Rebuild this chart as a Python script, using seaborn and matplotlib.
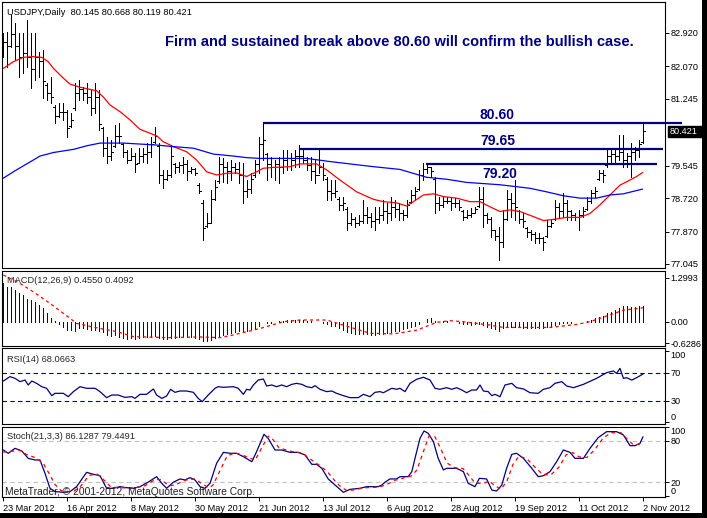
import numpy as np
import pandas as pd
import matplotlib
matplotlib.use("Agg")
import matplotlib.pyplot as plt
import seaborn as sns
from matplotlib.patches import Rectangle

# ---------------- data ----------------
date_bars = [0, 16, 32, 48, 64, 80, 96, 112, 128, 144, 160]
date_labels = ["23 Mar 2012", "16 Apr 2012", "8 May 2012", "30 May 2012", "21 Jun 2012",
               "13 Jul 2012", "6 Aug 2012", "28 Aug 2012", "19 Sep 2012", "11 Oct 2012", "2 Nov 2012"]

bar_high = [
    82.92, 82.95, 83.38, 83.17, 82.92, 82.92, 83.25, 82.92, 82.92, 82.44,
    82.49, 81.65, 81.80, 81.09, 81.14, 81.14, 80.96, 80.89, 81.65, 81.72,
    81.55, 81.65, 81.47, 81.65, 81.47, 80.53, 80.27, 80.20, 80.58, 80.63,
    80.12, 79.94, 79.99, 79.87, 79.99, 79.99, 80.12, 80.27, 80.53, 80.12,
    79.43, 79.43, 80.02, 79.61, 79.64, 79.77, 79.69, 79.51, 79.48, 79.11,
    78.67, 78.34, 78.93, 79.18, 79.77, 79.74, 79.64, 79.69, 79.61, 79.64,
    79.61, 79.18, 79.36, 79.69, 80.27, 80.66, 79.87, 79.77, 79.69, 79.77,
    79.94, 79.94, 79.87, 79.94, 80.07, 79.94, 79.77, 79.77, 79.69, 79.94,
    79.61, 79.26, 79.18, 79.18, 78.75, 78.75, 78.50, 78.34, 78.24, 78.29,
    78.67, 78.50, 78.34, 78.50, 78.50, 78.67, 78.60, 78.75, 78.67, 78.60,
    78.42, 78.67, 78.93, 79.00, 79.43, 79.61, 79.61, 79.51, 79.26, 78.75,
    78.75, 78.75, 78.75, 78.72, 78.67, 78.42, 78.42, 78.47, 78.50, 79.00,
    79.00, 78.34, 78.24, 77.91, 77.99, 78.42, 78.93, 78.85, 79.18, 78.42,
    78.34, 77.99, 77.91, 77.86, 77.83, 77.73, 78.16, 78.16, 78.67, 78.60,
    78.85, 78.67, 78.42, 78.34, 78.42, 78.50, 78.75, 78.93, 79.00, 79.43,
    79.43, 79.94, 79.94, 79.94, 80.33, 80.33, 79.87, 80.12, 80.02, 80.20,
    80.668]
bar_low = [
    82.31, 82.06, 82.56, 82.23, 81.80, 81.90, 82.06, 81.52, 81.72, 81.80,
    81.27, 81.22, 81.14, 80.63, 80.78, 80.71, 80.27, 80.53, 80.96, 81.22,
    81.22, 81.14, 80.83, 80.89, 80.45, 79.80, 79.61, 79.69, 80.02, 80.12,
    79.77, 79.61, 79.69, 79.38, 79.61, 79.64, 79.61, 79.77, 80.12, 79.11,
    78.98, 79.18, 79.26, 79.36, 79.38, 79.36, 79.18, 79.36, 79.31, 78.85,
    77.66, 77.99, 78.09, 78.67, 79.11, 79.13, 79.11, 79.18, 79.36, 79.11,
    78.60, 78.75, 78.85, 79.26, 79.36, 79.69, 79.18, 79.26, 79.18, 79.11,
    79.36, 79.43, 79.43, 79.51, 79.51, 79.61, 79.43, 79.18, 79.11, 79.36,
    79.18, 78.67, 78.67, 78.75, 78.42, 78.42, 77.91, 78.04, 77.99, 78.04,
    78.09, 78.09, 77.99, 77.91, 78.09, 78.16, 78.09, 78.16, 78.24, 78.16,
    78.16, 78.24, 78.60, 78.67, 78.93, 79.18, 79.36, 79.26, 78.34, 78.42,
    78.50, 78.60, 78.42, 78.50, 78.42, 78.16, 78.21, 78.24, 78.34, 78.50,
    77.99, 78.09, 77.73, 77.66, 77.15, 77.48, 78.16, 78.24, 78.16, 78.09,
    77.99, 77.73, 77.66, 77.58, 77.58, 77.40, 77.73, 77.99, 78.16, 78.24,
    78.24, 78.16, 78.16, 78.16, 77.91, 78.24, 78.42, 78.60, 78.75, 79.18,
    79.13, 79.51, 79.61, 79.61, 79.69, 79.51, 79.51, 79.26, 79.69, 79.77,
    80.119]
bar_open = [
    82.50, 82.70, 82.60, 82.90, 82.60, 82.30, 82.40, 82.30, 82.00, 82.30,
    82.20, 81.60, 81.40, 81.05, 80.80, 80.90, 80.90, 80.55, 81.00, 81.40,
    81.50, 81.40, 81.30, 81.00, 81.30, 80.50, 80.00, 79.80, 80.05, 80.30,
    80.10, 79.90, 79.70, 79.80, 79.62, 79.80, 79.85, 79.90, 80.15, 80.05,
    79.30, 79.20, 79.30, 79.58, 79.50, 79.55, 79.60, 79.40, 79.45, 79.05,
    78.60, 78.00, 78.10, 78.70, 79.15, 79.60, 79.50, 79.40, 79.50, 79.45,
    79.30, 78.90, 78.95, 79.30, 79.60, 80.10, 79.85, 79.60, 79.50, 79.60,
    79.50, 79.70, 79.75, 79.70, 79.80, 79.80, 79.70, 79.55, 79.40, 79.30,
    79.50, 79.20, 78.90, 78.85, 78.70, 78.55, 78.45, 78.10, 78.20, 78.10,
    78.15, 78.30, 78.25, 78.15, 78.20, 78.30, 78.40, 78.35, 78.50, 78.45,
    78.35, 78.30, 78.62, 78.80, 78.95, 79.30, 79.45, 79.50, 79.20, 78.60,
    78.55, 78.65, 78.65, 78.60, 78.60, 78.40, 78.25, 78.30, 78.35, 78.52,
    78.70, 78.30, 78.20, 77.90, 77.75, 77.60, 78.20, 78.70, 78.60, 78.40,
    78.20, 77.95, 77.85, 77.80, 77.70, 77.70, 77.75, 78.00, 78.20, 78.50,
    78.40, 78.60, 78.40, 78.30, 78.25, 78.30, 78.45, 78.65, 78.85, 79.20,
    79.35, 79.55, 79.80, 79.85, 79.80, 79.90, 79.70, 79.80, 79.90, 79.95,
    80.145]
bar_close = [
    82.70, 82.60, 82.90, 82.60, 82.30, 82.40, 82.30, 82.00, 82.30, 82.20,
    81.70, 81.40, 81.30, 80.80, 80.90, 80.90, 80.50, 80.70, 81.40, 81.50,
    81.40, 81.30, 81.00, 81.30, 80.60, 80.00, 79.80, 79.90, 80.30, 80.30,
    79.90, 79.70, 79.80, 79.60, 79.80, 79.85, 79.90, 80.10, 80.30, 79.30,
    79.20, 79.30, 79.80, 79.50, 79.55, 79.60, 79.40, 79.45, 79.35, 78.90,
    77.95, 78.10, 78.70, 79.00, 79.60, 79.50, 79.40, 79.50, 79.45, 79.30,
    78.90, 78.95, 79.20, 79.60, 80.10, 80.20, 79.60, 79.50, 79.60, 79.50,
    79.70, 79.75, 79.70, 79.80, 79.80, 79.70, 79.55, 79.40, 79.30, 79.50,
    79.30, 78.90, 78.85, 78.90, 78.55, 78.60, 78.10, 78.20, 78.10, 78.15,
    78.30, 78.25, 78.15, 78.20, 78.30, 78.40, 78.35, 78.50, 78.45, 78.35,
    78.30, 78.55, 78.80, 78.90, 79.30, 79.45, 79.50, 79.40, 78.60, 78.55,
    78.65, 78.65, 78.60, 78.60, 78.50, 78.25, 78.30, 78.35, 78.45, 78.70,
    78.30, 78.20, 77.90, 77.75, 77.60, 78.20, 78.70, 78.60, 78.50, 78.20,
    78.15, 77.85, 77.80, 77.70, 77.70, 77.60, 78.00, 78.10, 78.50, 78.40,
    78.60, 78.40, 78.30, 78.25, 78.30, 78.40, 78.65, 78.85, 78.90, 79.35,
    79.30, 79.80, 79.85, 79.80, 79.90, 79.70, 79.80, 79.90, 79.95, 80.10,
    80.421]

ma_red_bar = [0.1, 2.6, 5.1, 7.6, 9.7, 11.3, 12.6, 15.1, 16.75, 19.25, 23.4, 25.1, 26.75, 29.25,
              31.75, 34.25, 36.75, 38.5, 40, 42.6, 45.9, 48.4, 50.9, 53.4, 55.9, 58.4, 60.9, 63.4,
              65.1, 67.5, 71.75, 74.25, 78.4, 80.9, 84.25, 88.4, 92.6, 95.1, 98.4, 100.9, 102.6,
              105.1, 107.6, 110.1, 113.4, 116.75, 119.25, 121.75, 124.25, 126.75, 129.25, 132.6,
              135.1, 137.6, 140.9, 144.25, 146.75, 149.25, 151.75, 154.25, 156.75, 158.4, 159.9]
ma_red_val = [82.02, 82.19, 82.30, 82.32, 82.30, 82.19, 82.02, 81.77, 81.62, 81.54, 81.45, 81.29,
              81.09, 80.92, 80.71, 80.47, 80.37, 80.30, 80.16, 80.03, 79.90, 79.69, 79.39, 79.31,
              79.35, 79.36, 79.27, 79.39, 79.48, 79.50, 79.52, 79.59, 79.59, 79.44, 79.18, 78.88,
              78.69, 78.63, 78.60, 78.52, 78.63, 78.80, 78.83, 78.76, 78.72, 78.63, 78.63, 78.50,
              78.38, 78.42, 78.38, 78.25, 78.15, 78.18, 78.23, 78.23, 78.33, 78.55, 78.80, 79.05,
              79.18, 79.27, 79.37]
ma_blue_bar = [0.1, 3.4, 7.6, 9.25, 12.6, 17.6, 20.9, 24.25, 30.1, 38.4, 42.6, 47.6, 52.6, 57.6,
               60.9, 64.25, 75.9, 81.75, 86.75, 92.6, 99.25, 105.9, 110.9, 115.9, 124.25, 131.75,
               135.9, 140.1, 144.25, 148.4, 151.75, 155.1, 159.9]
ma_blue_val = [79.23, 79.44, 79.69, 79.79, 79.88, 79.96, 80.05, 80.12, 80.12, 80.07, 80.03, 79.99,
               79.84, 79.79, 79.75, 79.73, 79.73, 79.65, 79.59, 79.52, 79.45, 79.25, 79.20, 79.12,
               79.06, 78.97, 78.88, 78.78, 78.72, 78.72, 78.80, 78.83, 78.95]

level_price = [80.62, 79.96, 79.58]
level_text = ["80.60", "79.65", "79.20"]
level_start = [65.0, 74.25, 105.75]
level_end = [169.75, 165.0, 163.5]

price_ticks = [82.920, 82.070, 81.245, 79.545, 78.720, 77.870, 77.045]
last_price = 80.421

macd_hist = [
    1.13, 1.03, 1.03, 0.93, 0.84, 0.79, 0.66, 0.64, 0.57, 0.49,
    0.39, 0.25, 0.10, 0.01, -0.08, -0.15, -0.25, -0.25, -0.27, -0.20,
    -0.20, -0.22, -0.24, -0.25, -0.27, -0.30, -0.38, -0.42, -0.40, -0.45,
    -0.48, -0.50, -0.49, -0.50, -0.47, -0.45, -0.46, -0.44, -0.43, -0.48,
    -0.50, -0.50, -0.47, -0.47, -0.46, -0.45, -0.46, -0.46, -0.47, -0.50,
    -0.57, -0.58, -0.55, -0.48, -0.42, -0.38, -0.36, -0.34, -0.30, -0.28,
    -0.27, -0.26, -0.23, -0.20, -0.12, -0.02, -0.05, -0.04, 0.00, 0.02,
    0.03, 0.04, 0.05, 0.06, 0.05, 0.04, 0.03, 0.01, -0.02, 0.00,
    -0.03, -0.08, -0.12, -0.14, -0.20, -0.25, -0.30, -0.33, -0.36, -0.37,
    -0.36, -0.36, -0.38, -0.38, -0.37, -0.36, -0.34, -0.30, -0.28, -0.26,
    -0.23, -0.20, -0.16, -0.12, -0.06, -0.02, 0.08, 0.10, 0.02, 0.00,
    0.01, 0.02, 0.00, -0.02, -0.05, -0.08, -0.08, -0.09, -0.08, -0.07,
    -0.10, -0.15, -0.20, -0.22, -0.27, -0.20, -0.16, -0.15, -0.16, -0.17,
    -0.18, -0.19, -0.20, -0.20, -0.19, -0.20, -0.17, -0.15, -0.10, -0.07,
    -0.05, -0.04, -0.03, -0.02, -0.02, 0.00, 0.02, 0.05, 0.10, 0.13,
    0.18, 0.25, 0.30, 0.35, 0.40, 0.45, 0.45, 0.44, 0.43, 0.45,
    0.455]
macd_sig_bar = [0.1, 4.25, 7.6, 11.75, 16.75, 18.4, 24.25, 28.4, 32.6, 40.9, 49.25, 54.25, 57.6,
                64.25, 70.1, 74.25, 80.9, 85.1, 89.25, 91.75, 97.6, 103.4, 108.4, 111.75, 115.1,
                121.75, 125.1, 136.75, 143.4, 146.75, 151.75, 155.1, 160]
macd_sig_val = [1.38, 1.13, 0.88, 0.54, 0.10, -0.05, -0.20, -0.29, -0.44, -0.47, -0.45, -0.47,
                -0.39, -0.20, 0.00, 0.05, 0.05, -0.10, -0.25, -0.34, -0.36, -0.25, -0.02, 0.03,
                0.00, -0.10, -0.17, -0.17, -0.08, 0.00, 0.20, 0.34, 0.41]
macd_ticks = [1.2993, 0.0, -0.6286]
macd_tick_labels = ["1.2993", "0.00", "-0.6286"]

rsi_bar = [0.1, 1.75, 3.0, 4.25, 5.5, 6.3, 7.2, 8.4, 9.7, 10.9, 12.2, 13.0, 15.1, 16.3, 17.6, 19.25,
           20.9, 23.0, 24.25, 25.9, 27.2, 28.8, 30.5, 32.2, 33.0, 34.25, 35.9, 37.6, 38.4, 39.7,
           40.9, 41.9, 43.0, 44.25, 45.9, 47.6, 48.8, 49.8, 51.3, 53.0, 53.8, 55.1, 57.6, 58.8,
           60.1, 60.9, 61.75, 62.6, 63.8, 65.1, 65.9, 67.2, 68.4, 69.7, 70.9, 72.2, 73.4, 74.7,
           75.9, 77.2, 78.0, 79.25, 80.9, 82.2, 83.4, 85.1, 86.75, 88.8, 90.1, 91.75, 93.0, 94.25,
           95.1, 95.9, 97.2, 98.4, 99.25, 100.5, 101.75, 103.4, 105.1, 106.75, 108.0, 109.25,
           110.9, 112.2, 113.4, 114.7, 115.9, 117.2, 118.4, 119.25, 120.1, 121.3, 122.2, 123.0,
           124.25, 125.5, 127.2, 128.4, 130.1, 131.75, 133.8, 135.1, 136.75, 138.0, 139.7, 140.9,
           142.6, 145.1, 148.4, 150.9, 152.6, 153.4, 154.25, 155.1, 155.9, 157.2, 158.4, 160.0]
rsi_val = [58.2, 64.4, 62.0, 57.3, 59.6, 52.6, 58.2, 54.9, 50.2, 47.9, 37.5, 40.8, 40.8, 36.1, 43.2,
           50.2, 47.9, 47.9, 43.2, 34.7, 38.4, 38.4, 35.1, 36.1, 33.7, 39.4, 39.4, 47.0, 38.4, 33.7,
           37.0, 46.5, 42.2, 44.1, 44.1, 42.2, 33.7, 29.0, 38.4, 47.9, 50.2, 49.3, 50.2, 47.9, 39.4,
           46.5, 45.5, 52.6, 59.6, 61.0, 51.2, 52.6, 50.2, 52.6, 50.2, 53.5, 54.9, 53.5, 50.2, 48.8,
           51.6, 46.5, 43.2, 44.1, 40.8, 37.5, 34.7, 34.7, 39.4, 36.1, 42.2, 43.2, 41.7, 44.1, 47.9,
           46.5, 47.9, 43.2, 54.9, 60.6, 63.5, 59.6, 47.9, 46.5, 48.8, 46.5, 48.8, 45.5, 41.7, 45.5,
           45.5, 52.6, 44.1, 43.2, 37.5, 39.4, 36.1, 52.6, 54.9, 48.8, 47.0, 41.7, 40.8, 46.5, 48.8,
           54.9, 57.3, 51.2, 48.8, 53.5, 62.0, 70.0, 72.4, 69.0, 76.1, 62.0, 62.9, 59.6, 62.9, 68.07]

stoch_k_bar = [0.1, 1.3, 3.0, 4.7, 6.3, 8.0, 9.25, 10.5, 11.75, 13.0, 15.1, 16.75, 18.4, 20.9, 22.6,
               24.25, 25.9, 27.6, 29.25, 30.9, 32.6, 34.25, 36.3, 38.4, 39.7, 40.9, 42.6, 44.25,
               45.5, 46.75, 48.0, 49.25, 50.5, 51.75, 53.4, 55.1, 56.75, 58.4, 60.1, 62.2, 63.4,
               65.25, 66.3, 68.0, 69.7, 71.75, 73.8, 75.5, 77.2, 78.4, 79.7, 81.3, 83.0, 85.1,
               86.75, 89.25, 90.9, 93.8, 94.7, 95.5, 96.75, 98.4, 99.25, 101.3, 102.2, 103.0,
               104.25, 105.25, 106.3, 107.6, 108.8, 110.1, 110.9, 113.4, 115.1, 116.3, 118.0,
               119.1, 120.9, 122.2, 123.4, 124.7, 125.9, 127.2, 128.4, 130.1, 132.2, 133.8, 135.1,
               136.75, 138.4, 140.1, 141.75, 143.0, 145.1, 146.75, 148.8, 150.9, 153.4, 155.1,
               156.75, 158.0, 159.25, 160.0]
stoch_k_val = [66.9, 62.1, 69.3, 65.5, 54.8, 52.4, 52.4, 33.0, 11.3, 6.5, 5.5, 6.5, 13.7, 34.5, 31.6,
               29.6, 11.3, 11.3, 13.7, 12.2, 11.3, 13.7, 20.2, 28.2, 18.5, 11.3, 20.2, 24.9, 23.4,
               26.8, 23.4, 13.7, 11.3, 18.5, 47.6, 63.5, 62.1, 62.1, 57.2, 49.9, 64.5, 89.7, 83.8,
               66.9, 66.9, 63.5, 63.5, 59.7, 46.1, 46.1, 40.3, 24.9, 16.1, 5.5, 9.8, 11.3, 13.7,
               13.7, 16.1, 20.2, 24.9, 24.9, 28.2, 28.2, 35.5, 54.8, 83.8, 94.5, 91.1, 79.0, 54.8,
               37.9, 40.3, 40.3, 35.5, 18.5, 13.7, 25.8, 24.9, 8.8, 7.4, 16.1, 40.3, 60.6, 62.1,
               54.8, 40.3, 28.2, 29.6, 35.5, 49.9, 66.9, 63.5, 54.8, 54.8, 69.3, 84.8, 93.5, 93.5,
               88.7, 73.2, 73.2, 76.6, 86.13]
stoch_d_bar = [0, 2.3, 4, 6, 8, 10, 11.5, 13, 14.5, 17.5, 19.5, 21.5, 23.5, 25.5, 27, 30, 33, 35.5,
               38, 39.5, 41.5, 43, 45.5, 48, 50, 51.5, 52.5, 54.5, 56, 58, 61, 63, 64.5, 66.3, 67.5,
               69, 72, 75, 77, 79, 81, 83, 84.5, 86, 88, 90, 94, 96, 98, 100, 102, 103.5, 105, 106.5,
               108, 109.5, 111, 113, 115, 116.5, 118, 120, 121.5, 123, 124.5, 126, 127.5, 129, 131,
               133, 135, 137, 139, 140.8, 142.5, 144, 146, 148, 150, 152, 154.5, 156, 157.5, 159, 160]
stoch_d_val = [64, 65, 67, 60, 56, 48, 33, 17, 8, 6, 15, 30, 32, 22, 13, 12, 12, 15, 24, 24, 15, 16,
               23, 25, 17, 12, 16, 40, 58, 63, 57, 52, 68, 87, 82, 70, 65, 62, 53, 45, 36, 22, 13, 8,
               9, 12, 13, 17, 23, 26, 29, 38, 63, 87, 86, 68, 48, 41, 40, 30, 19, 18, 22, 15, 10, 22,
               46, 58, 54, 42, 31, 31, 42, 60, 63, 57, 56, 68, 84, 92, 92, 83, 75, 75, 79.45]

# ---------------- layout helpers ----------------
W, H = 707, 518
sns.set_style("white")
plt.rcParams['font.family'] = ['Liberation Sans', 'DejaVu Sans']
NAVY = '#000080'
LW = 0.72  # one pixel

fig = plt.figure(figsize=(W / 100, H / 100), dpi=100)
fig.patch.set_facecolor('white')


def rect(top, bottom, left=2, right=665):
    return [left / W, 1 - bottom / H, (right - left) / W, (bottom - top) / H]


ax_p = fig.add_axes(rect(2, 268))
ax_m = fig.add_axes(rect(271, 345.7))
ax_r = fig.add_axes(rect(348.3, 424.3))
ax_s = fig.add_axes(rect(426.7, 497.3))
axes = [ax_p, ax_m, ax_r, ax_s]

for ax in axes:
    ax.set_xlim(-0.25, 165.5)
    ax.set_facecolor('white')
    for s in ax.spines.values():
        s.set_color('black')
        s.set_linewidth(0.8)
    ax.yaxis.tick_right()
    ax.tick_params(axis='y', direction='out', length=3, width=0.7, pad=1.0,
                   labelsize=6.6, colors='black', left=False, right=True)
    ax.tick_params(axis='x', bottom=False, labelbottom=False)
    ax.grid(False)

# ---------------- price panel ----------------
ax_p.set_ylim(76.943, 83.708)
idx = np.arange(len(bar_close))
ax_p.vlines(idx, bar_low, bar_high, color='black', lw=LW, antialiased=False)
ax_p.hlines(bar_open, idx - 0.4, idx, color='black', lw=LW, antialiased=False)
ax_p.hlines(bar_close, idx, idx + 0.4, color='black', lw=LW, antialiased=False)

sns.lineplot(x=ma_red_bar, y=ma_red_val, ax=ax_p, color='#FF0000', lw=0.9,
             estimator=None, sort=False)
sns.lineplot(x=ma_blue_bar, y=ma_blue_val, ax=ax_p, color='#0000FF', lw=0.9,
             estimator=None, sort=False)

for pr, txt, x0, x1 in zip(level_price, level_text, level_start, level_end):
    ax_p.plot([x0, x1], [pr, pr], color=NAVY, lw=1.6, solid_capstyle='butt', clip_on=False)

# level labels (text above / below their lines as on the chart)
ax_p.text(119.0, 80.62 + 0.04, level_text[0], color=NAVY, fontsize=10, fontweight='bold',
          ha='left', va='bottom')
ax_p.text(119.25, 79.96 + 0.04, level_text[1], color=NAVY, fontsize=10, fontweight='bold',
          ha='left', va='bottom')
ax_p.text(119.75, 79.58 - 0.08, level_text[2], color=NAVY, fontsize=10, fontweight='bold',
          ha='left', va='top')

ax_p.set_yticks(price_ticks)
ax_p.set_yticklabels([f"{v:.3f}" for v in price_ticks])

ax_p.text(40.5, 82.59, "Firm and sustained break above 80.60 will confirm the bullish case.",
          color=NAVY, fontsize=10.5, fontweight='bold', ha='left', va='baseline')
ax_p.text(0.008, 0.951, "USDJPY,Daily  80.145 80.668 80.119 80.421", transform=ax_p.transAxes,
          fontsize=6.7, color='black', ha='left', va='baseline')

# last price box on the axis
fig.canvas.draw()
yy = ax_p.transData.transform((0, last_price))[1]
ypx = H - yy
fig.patches.append(Rectangle((668 / W, 1 - (ypx + 5.5) / H), 34 / W, 11 / H,
                             transform=fig.transFigure, facecolor='black', edgecolor='black'))
fig.text(669.5 / W, 1 - ypx / H, f"{last_price:.3f}", color='white', fontsize=6.6,
         ha='left', va='center')

# ---------------- MACD panel ----------------
ax_m.set_ylim(-0.708, 1.496)
ax_m.vlines(idx, 0, macd_hist, color=NAVY, lw=LW, antialiased=False)
sns.lineplot(x=macd_sig_bar, y=macd_sig_val, ax=ax_m, color='#FF0000', lw=0.9,
             linestyle=(0, (2.5, 2.5)), estimator=None, sort=False)
ax_m.set_yticks(macd_ticks)
ax_m.set_yticklabels(macd_tick_labels)
ax_m.text(0.008, 0.84, "MACD(12,26,9) 0.4550 0.4092", transform=ax_m.transAxes,
          fontsize=6.7, ha='left', va='baseline')

# ---------------- RSI panel ----------------
ax_r.set_ylim(-2.97, 104.45)
for lv in (70, 30):
    ax_r.axhline(lv, color=NAVY, lw=0.8, linestyle=(0, (4, 3)))
sns.lineplot(x=rsi_bar, y=rsi_val, ax=ax_r, color=NAVY, lw=0.9, estimator=None, sort=False)
ax_r.set_yticks([100, 70, 30, 0])
ax_r.set_yticklabels(["100", "70", "30", "0"])
ax_r.text(0.008, 0.82, "RSI(14) 68.0663", transform=ax_r.transAxes,
          fontsize=6.7, ha='left', va='baseline')

# ---------------- Stochastic panel ----------------
ax_s.set_ylim(-1.74, 100.7)
for lv in (80, 20):
    ax_s.axhline(lv, color='#C0C0C0', lw=0.8, linestyle=(0, (4, 3)))
sns.lineplot(x=stoch_k_bar, y=stoch_k_val, ax=ax_s, color=NAVY, lw=0.9,
             estimator=None, sort=False)
sns.lineplot(x=stoch_d_bar, y=stoch_d_val, ax=ax_s, color='#FF0000', lw=0.9,
             linestyle=(0, (3, 3)), estimator=None, sort=False)
ax_s.set_yticks([100, 80, 20, 0])
ax_s.set_yticklabels(["100", "80", "20", "0"])
ax_s.text(0.008, 0.82, "Stoch(21,3,3) 86.1287 79.4491", transform=ax_s.transAxes,
          fontsize=6.7, ha='left', va='baseline')
ax_s.text(0.005, 0.01, "MetaTrader, \u00a9 2001-2012, MetaQuotes Software Corp.",
          transform=ax_s.transAxes, fontsize=7.4, color='#202020', ha='left', va='bottom')

ax_s.set_xticks(date_bars)
ax_s.set_xticklabels(date_labels)
ax_s.tick_params(axis='x', bottom=True, labelbottom=True, direction='out', length=3,
                 width=0.7, pad=1.5, labelsize=6.6, colors='black')
for lab in ax_s.get_xticklabels():
    lab.set_ha('left')

# per-label vertical alignment for the edge labels of the oscillator panels
for ax in (ax_r, ax_s):
    ticks = ax.yaxis.get_major_ticks()
    ticks[0].label2.set_va('top')
    ticks[-1].label2.set_va('bottom')

for ax in axes:
    ax.set_xlabel("")
    ax.set_ylabel("")
    leg = ax.get_legend()
    if leg:
        leg.remove()

# black window edges
fig.patches.append(Rectangle((702 / W, 0), 5 / W, 1, transform=fig.transFigure,
                             facecolor='black', edgecolor='none'))
fig.patches.append(Rectangle((0, 0), 1, 5 / H, transform=fig.transFigure,
                             facecolor='black', edgecolor='none'))

fig.savefig("out.png", dpi=100, facecolor='white')
